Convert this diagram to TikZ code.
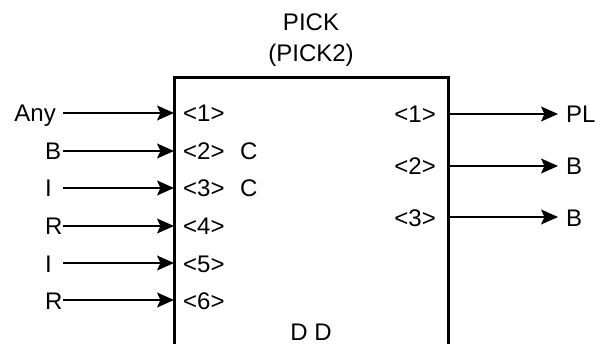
\documentclass[tikz,border=0pt]{standalone}
\usepackage{fontspec}
\setmainfont{Liberation Sans}
\usetikzlibrary{arrows.meta}

\begin{document}
\begin{tikzpicture}[x=1pt, y=-1pt,
    lbl/.style={font=\fontsize{24}{28}\selectfont, inner sep=0pt},
    sig/.style={line width=1.4pt, -{Stealth[length=17pt, width=15pt, inset=3.5pt]}}]
  \useasboundingbox (0,0) rectangle (601,344);
  %% block outline, open at the bottom
  \coordinate (bl) at (174,344);
  \coordinate (tl) at (174,78);
  \coordinate (tr) at (448,78);
  \coordinate (br) at (448,344);
  \draw[line width=3pt] (bl) -- (tl) -- (tr) -- (br);
  \node[lbl, anchor=base] (title) at (311,31) {PICK};
  \node[lbl, anchor=base] (subtitle) at (311,62) {(PICK2)};
  \node[lbl, anchor=base] (dd) at (311,340) {D D};
  %% inputs: row/y/source/anchor/x
  \foreach \i/\y/\src/\anc/\sx in {
      1/113/Any/base east/56,
      2/151/B/base west/45,
      3/188/I/base west/45,
      4/226/R/base west/45,
      5/263/I/base west/45,
      6/300/R/base west/45} {
    \coordinate (start\i) at (63,\y);
    \node[lbl, anchor=\anc] (src\i) at (\sx,\y+9) {\src};
    \node[lbl, anchor=base west] (pin\i) at (183,\y+9) {<\i>};
    \draw[sig] (start\i) -- (tl |- start\i);
  }
  \node[lbl, anchor=base west] (c2) at (240,160) {C};
  \node[lbl, anchor=base west] (c3) at (240,197) {C};
  %% outputs: row/y/target
  \foreach \i/\y/\dst in {1/114/PL, 2/166/B, 3/217/B} {
    \coordinate (end\i) at (558,\y);
    \node[lbl, anchor=base east] (pout\i) at (436,\y+9) {<\i>};
    \node[lbl, anchor=base west] (dst\i) at (566,\y+9) {\dst};
    \draw[sig] (tr |- end\i) -- (end\i);
  }
\end{tikzpicture}
\end{document}
